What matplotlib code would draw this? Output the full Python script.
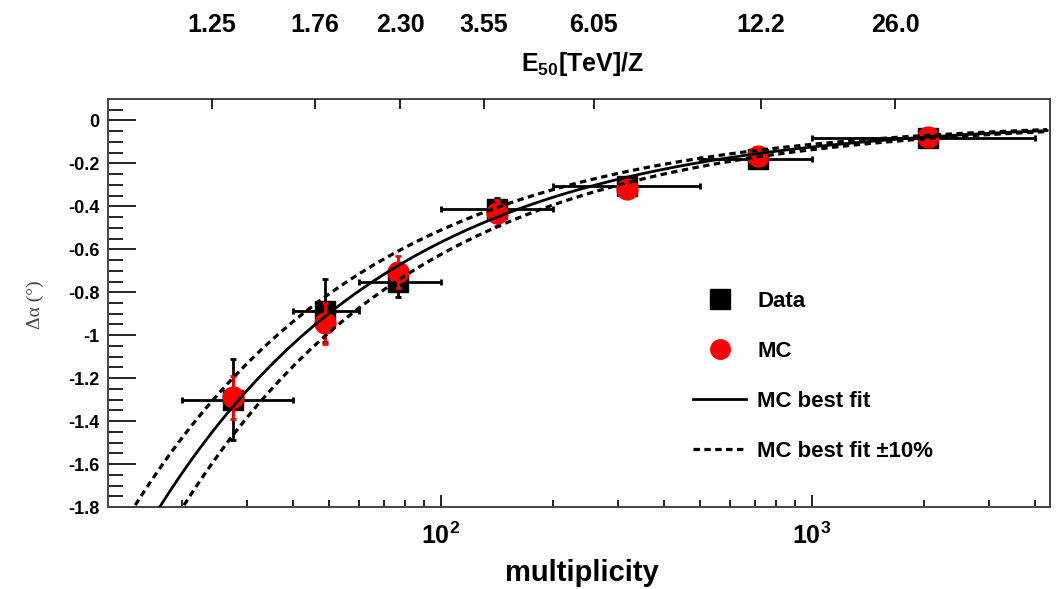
import matplotlib
matplotlib.use('Agg')
import matplotlib.pyplot as plt
from matplotlib.lines import Line2D
import numpy as np

plt.rcParams['font.family'] = ['Liberation Sans', 'DejaVu Sans']
plt.rcParams['mathtext.fontset'] = 'custom'
plt.rcParams['mathtext.rm'] = 'Liberation Sans:bold'
plt.rcParams['mathtext.bf'] = 'Liberation Sans:bold'

# multiplicity bins
bin_lo = [20, 40, 60, 100, 200, 500, 1000]
bin_hi = [40, 60, 100, 200, 500, 1000, 4000]
mult = [27.5, 48.7, 76.6, 141.6, 317, 715, 2050]

data_y = [-1.30, -0.885, -0.75, -0.41, -0.305, -0.18, -0.082]
data_yerr = [0.19, 0.145, 0.07, 0.05, 0.02, 0.02, 0.02]
mc_y = [-1.29, -0.945, -0.705, -0.43, -0.32, -0.165, -0.075]
mc_yerr = [0.10, 0.095, 0.075, 0.06, 0.02, 0.02, 0.02]

# MC best fit: dalpha = -A * m^-b
fit_A = 11.95
fit_b = 0.662
fit_band = 0.10

# top axis (E50 [TeV]/Z)
top_pos = [24.1, 45.8, 77.5, 130.6, 258, 729, 1674]
top_labels = ['1.25', '1.76', '2.30', '3.55', '6.05', '12.2', '26.0']

yticks = [0, -0.2, -0.4, -0.6, -0.8, -1, -1.2, -1.4, -1.6, -1.8]

fig = plt.figure(figsize=(10.63, 5.89), dpi=100)
ax = fig.add_axes([0.1016, 0.1392, 0.8862, 0.6927])

x = np.array(mult)
xerr = [x - np.array(bin_lo), np.array(bin_hi) - x]
ax.errorbar(x, data_y, xerr=xerr, yerr=data_yerr, fmt='s', color='black',
            ms=15, elinewidth=2.0, capsize=2.5, capthick=2.0, zorder=3)
ax.errorbar(x, mc_y, yerr=mc_yerr, fmt='o', color='red', mec='red',
            ms=15, elinewidth=2.0, capsize=2.5, capthick=2.0, zorder=4)

m = np.logspace(1.0, np.log10(4300), 400)
fit = -fit_A * m ** (-fit_b)
ax.plot(m, fit, color='black', lw=2.0, zorder=5)
ax.plot(m, fit * (1 + fit_band), color='black', lw=2.3, dashes=(2.0, 1.4), zorder=5)
ax.plot(m, fit * (1 - fit_band), color='black', lw=2.3, dashes=(2.0, 1.4), zorder=5)

ax.set_xscale('log')
ax.set_xlim(12.66, 4380)
ax.set_ylim(-1.8, 0.1)

ax.set_xticks([100, 1000])
ax.set_xticklabels([r'$10^{2}$', r'$10^{3}$'], fontsize=18)
ax.set_yticks(yticks)
ax.set_yticklabels([f'{v:g}' for v in yticks], fontsize=13, fontweight='bold')
ax.set_yticks(np.arange(-1.8, 0.1, 0.05), minor=True)
ax.tick_params(axis='x', which='major', direction='in', length=9, width=1.2,
               top=False, pad=11)
ax.tick_params(axis='x', which='minor', direction='in', length=5, width=1.2, top=False)
ax.tick_params(axis='y', which='major', direction='in', length=20, width=1.2, pad=6)
ax.tick_params(axis='y', which='minor', direction='in', length=11, width=1.2)
ax.tick_params(axis='x', which='minor', labelbottom=False)

for sp in ax.spines.values():
    sp.set_color('#444444')
    sp.set_linewidth(1.4)

# top axis
axt = ax.twiny()
axt.set_xscale('log')
axt.set_xlim(ax.get_xlim())
axt.set_xticks(top_pos)
axt.set_xticklabels(top_labels, fontsize=18, fontweight='bold')
axt.xaxis.set_minor_locator(matplotlib.ticker.NullLocator())
axt.tick_params(axis='x', direction='in', length=7, width=1.2, pad=45)
for sp in axt.spines.values():
    sp.set_visible(False)

fig.text(583 / 1063, 1 - 64 / 589, r'E$_{\mathregular{50}}$[TeV]/Z', fontsize=18,
         fontweight='bold', ha='center', va='center')
fig.text(582 / 1063, 1 - 573 / 589, 'multiplicity', fontsize=21,
         fontweight='bold', ha='center', va='center')
fig.text(35 / 1063, 1 - 305 / 589, 'Δα (°)', fontsize=14, color='#3a4452',
         rotation=90, ha='center', va='center', family=['Liberation Serif', 'DejaVu Serif'])

handles = [
    Line2D([], [], marker='s', ls='none', color='black', ms=14),
    Line2D([], [], marker='o', ls='none', color='red', ms=14),
    Line2D([], [], color='black', lw=2.0),
    Line2D([], [], color='black', lw=2.3, dashes=(2.0, 1.4)),
]
labels = ['Data', 'MC', 'MC best fit', 'MC best fit ±10%']
ax.legend(handles, labels, loc='upper left', bbox_to_anchor=(693 / 1063, 1 - 291 / 589),
          bbox_transform=fig.transFigure, frameon=False, borderaxespad=0, borderpad=0,
          handlelength=2.4, handletextpad=0.5, labelspacing=1.3,
          prop={'weight': 'bold', 'size': 16})

fig.savefig('out.png', dpi=100)
